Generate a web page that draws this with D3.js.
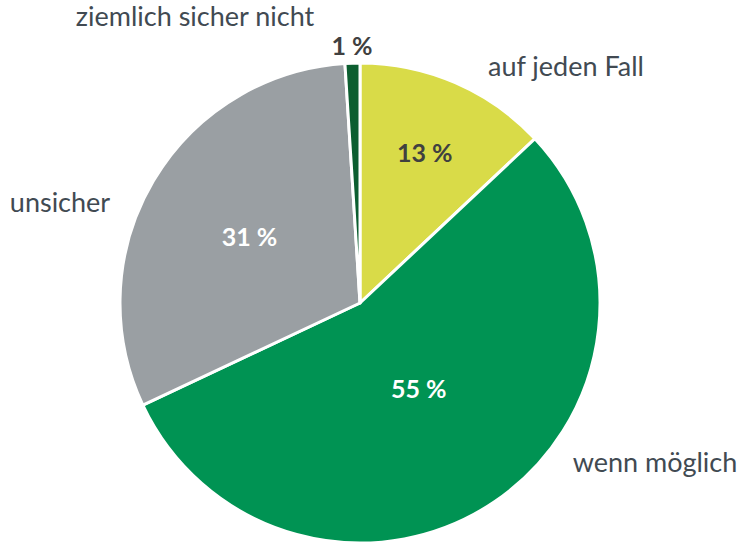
<!DOCTYPE html>
<html>
<head>
<meta charset="utf-8">
<script src="https://cdn.jsdelivr.net/npm/d3@7"></script>
<style>
  html, body { margin: 0; padding: 0; background: #fff; }
  svg { display: block; }
  text { font-family: Lato, "Open Sans", sans-serif; }
</style>
</head>
<body>
<svg id="chart" width="742" height="542"></svg>
<script>
// Antworten in Prozent, im Uhrzeigersinn ab 12 Uhr
const categories = ["auf jeden Fall", "wenn möglich", "unsicher", "ziemlich sicher nicht"];
const values = [13, 55, 31, 1];
const colors = ["#d9db48", "#009353", "#9a9fa3", "#0c5e30"];
const valueLabelColors = ["#404040", "#ffffff", "#ffffff", "#404040"];

// Abstand der Prozentwerte vom Mittelpunkt (Anteil am Radius)
const valueLabelRadius = [0.68, 0.435, 0.535, 1.07];
// Position der Kategorienamen relativ zum Mittelpunkt
const nameOffsets = [[206, -236], [295, 160], [-300, -100], [-165, -286]];

const width = 742, height = 542;
const cx = 360, cy = 303, radius = 240;

const svg = d3.select("#chart");
const g = svg.append("g").attr("transform", `translate(${cx},${cy})`);

const data = categories.map((c, i) => ({ name: c, value: values[i], color: colors[i], i }));

const pie = d3.pie().value(d => d.value).sort(null);
const arcs = pie(data);
const arc = d3.arc().innerRadius(0).outerRadius(radius);

g.selectAll("path.slice")
  .data(arcs)
  .join("path")
  .attr("class", "slice")
  .attr("d", arc)
  .attr("fill", d => d.data.color)
  .attr("stroke", "#ffffff")
  .attr("stroke-width", 3)
  .attr("stroke-linejoin", "round");

// Prozentwerte
g.selectAll("text.value")
  .data(arcs)
  .join("text")
  .attr("class", "value")
  .attr("transform", d => {
    const r = radius * valueLabelRadius[d.data.i];
    const a = (d.startAngle + d.endAngle) / 2;
    return `translate(${r * Math.sin(a)},${-r * Math.cos(a)})`;
  })
  .attr("text-anchor", "middle")
  .attr("dy", "0.35em")
  .attr("font-size", 25)
  .attr("font-weight", 700)
  .attr("fill", d => valueLabelColors[d.data.i])
  .text(d => `${d.data.value} %`);

// Kategorienamen
g.selectAll("text.name")
  .data(arcs)
  .join("text")
  .attr("class", "name")
  .attr("x", d => nameOffsets[d.data.i][0])
  .attr("y", d => nameOffsets[d.data.i][1])
  .attr("text-anchor", "middle")
  .attr("dy", "0.35em")
  .attr("font-size", 27)
  .attr("fill", "#414a52")
  .text(d => d.data.name);
</script>
</body>
</html>
